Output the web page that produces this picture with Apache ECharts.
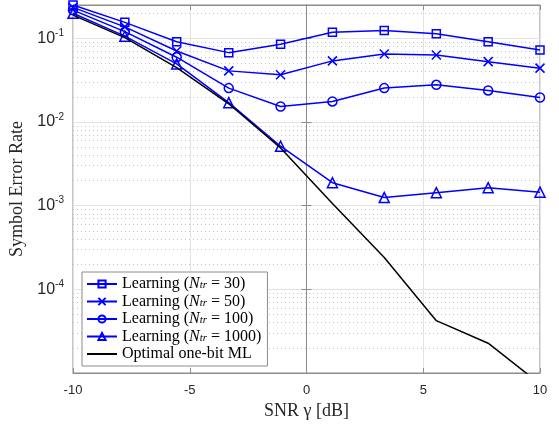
<!DOCTYPE html>
<html>
<head>
<meta charset="utf-8">
<script src="https://cdn.jsdelivr.net/npm/echarts@6/dist/echarts.min.js"></script>
<style>html,body{margin:0;padding:0;background:#fff;}#c{width:559px;height:429px;}</style>
</head>
<body>
<div id="c"></div>
<script>
// ---- data ----
var snr = [-10, -7.78, -5.56, -3.33, -1.11, 1.11, 3.33, 5.56, 7.78, 10];
var ser30   = [0.25, 0.155, 0.091, 0.0674, 0.0848, 0.118, 0.124, 0.113, 0.091, 0.0726];
var ser50   = [0.234, 0.137, 0.0706, 0.0408, 0.0366, 0.0537, 0.065, 0.0633, 0.0526, 0.044];
var ser100  = [0.217, 0.12, 0.0594, 0.0254, 0.0153, 0.0176, 0.0254, 0.0278, 0.0238, 0.0196];
var ser1000 = [0.199, 0.106, 0.0494, 0.017, 0.00513, 0.00188, 0.00125, 0.00143, 0.00164, 0.00145];
var serML   = [0.189, 0.102, 0.0446, 0.0165, 0.0049, 0.00106, 0.00024, 0.0000422, 0.0000227, 0.0000074];
var ntrValues = [30, 50, 100, 1000];
var mlName = 'Optimal one-bit ML';
var xTicks = [-10, -5, 0, 5, 10];
var yDecades = [-5, -4, -3, -2, -1];

var blue = '#0000ff';
var serif = '"Liberation Serif","Times New Roman",serif';
var sans = '"Liberation Sans",Arial,Helvetica,sans-serif';
var yMin = 1.0e-5, yMax = 0.25;
var xMin = xTicks[0], xMax = xTicks[xTicks.length - 1];

function pairs(arr) { return snr.map(function (x, i) { return [x, arr[i]]; }); }

// minor grid values 2..9 x 10^k
var minorVals = [];
yDecades.forEach(function (k) {
  for (var m = 2; m <= 9; m++) {
    var v = m * Math.pow(10, k);
    if (v > yMin && v < yMax) minorVals.push(v);
  }
});

var learnSeries = [ser30, ser50, ser100, ser1000];
var symbols = ['rect', 'path://M0,0L10,10M10,0L0,10', 'circle', 'triangle'];
var symSizes = [8, 9, 9, 10];

var series = [{
  type: 'lines', name: '_grid', coordinateSystem: 'cartesian2d', silent: true,
  polyline: false, z: 1,
  lineStyle: { color: '#c4c4c4', type: [1, 3], width: 1, opacity: 1 },
  data: minorVals.map(function (v) { return { coords: [[xMin, v], [xMax, v]] }; })
}];
learnSeries.forEach(function (arr, i) {
  series.push({
    type: 'line',
    name: 'Learning (Ntr = ' + ntrValues[i] + ')',
    data: pairs(arr),
    symbol: symbols[i],
    symbolSize: symSizes[i],
    showAllSymbol: true,
    lineStyle: { color: blue, width: 1.5 },
    itemStyle: { color: 'rgba(0,0,0,0)', borderColor: blue, borderWidth: 1.5 },
    emphasis: { disabled: true },
    z: 3
  });
});
series.push({
  type: 'line', name: mlName, data: pairs(serML), symbol: 'none',
  lineStyle: { color: '#000', width: 1.5 },
  itemStyle: { color: 'rgba(0,0,0,0)', borderColor: 'rgba(0,0,0,0)', borderWidth: 0 },
  emphasis: { disabled: true }, z: 4
});

function yLabel(v) {
  var e = Math.log10(v), r = Math.round(e);
  if (Math.abs(e - r) > 1e-6) return '';
  if (r <= -5) return '';
  return '{b|10}{s|' + r + '}';
}

var option = {
  animation: false,
  backgroundColor: '#fff',
  grid: { left: 73, right: 19, top: 5, bottom: 56, show: true, borderColor: '#8c8c8c', borderWidth: 1, outerBoundsMode: 'none' },
  legend: {
    data: series.slice(1).map(function (s) { return s.name; }),
    orient: 'vertical', left: 82, top: 272,
    itemWidth: 30, itemHeight: 9, itemGap: 1.5,
    padding: [4, 6, 4, 4],
    borderColor: '#8c8c8c', borderWidth: 1, backgroundColor: '#fff',
    textStyle: {
      fontFamily: serif, fontSize: 16, color: '#000', lineHeight: 14,
      rich: {
        i: { fontFamily: serif, fontSize: 16, fontStyle: 'italic', lineHeight: 14 },
        sub: { fontFamily: serif, fontSize: 11, fontStyle: 'italic', lineHeight: 8, verticalAlign: 'bottom' }
      }
    },
    formatter: function (name) {
      return name.replace('Ntr', '{i|N}{sub|tr}');
    }
  },
  xAxis: [{
    type: 'value', min: xMin, max: xMax, interval: 5,
    name: 'SNR \u03b3 [dB]', nameLocation: 'middle', nameGap: 27,
    nameTextStyle: { fontFamily: serif, fontSize: 18, color: '#262626' },
    axisLine: { show: true, lineStyle: { color: '#8c8c8c' } },
    axisTick: { show: true, inside: true, length: 5, lineStyle: { color: '#8c8c8c' } },
    axisLabel: { fontFamily: sans, fontSize: 13, color: '#262626', margin: 11 },
    splitLine: { show: true, lineStyle: { color: '#e3e3e3', width: 1 } }
  }, {
    type: 'value', position: 'top', min: xMin, max: xMax, interval: 5,
    axisLine: { show: true, lineStyle: { color: '#8c8c8c' } },
    axisTick: { show: true, inside: true, length: 5, lineStyle: { color: '#8c8c8c' } },
    axisLabel: { show: false }, splitLine: { show: false }
  }],
  yAxis: [{
    type: 'log', min: yMin, max: yMax, logBase: 10,
    name: 'Symbol Error Rate', nameLocation: 'middle', nameGap: 42,
    nameTextStyle: { fontFamily: serif, fontSize: 18, color: '#262626' },
    axisLine: { show: true, lineStyle: { color: '#8c8c8c' } },
    axisTick: { show: true, inside: true, length: 5, lineStyle: { color: '#8c8c8c' } },
    axisLabel: {
      margin: 9, formatter: yLabel, showMinLabel: false, showMaxLabel: false,
      rich: {
        b: { fontFamily: sans, fontSize: 16, color: '#262626', lineHeight: 20 },
        s: { fontFamily: sans, fontSize: 10, color: '#262626', lineHeight: 10, verticalAlign: 'top' }
      }
    },
    splitLine: { show: true, lineStyle: { color: '#e3e3e3', width: 1 } }
  }, {
    type: 'log', min: yMin, max: yMax, logBase: 10, position: 'right',
    axisLine: { show: true, lineStyle: { color: '#8c8c8c' } },
    axisTick: { show: true, inside: true, length: 5, lineStyle: { color: '#8c8c8c' } },
    axisLabel: { show: false }, splitLine: { show: false }
  }],
  series: series
};

var chart = echarts.init(document.getElementById('c'), null, { renderer: 'canvas' });
chart.setOption(option);
</script>
</body>
</html>
